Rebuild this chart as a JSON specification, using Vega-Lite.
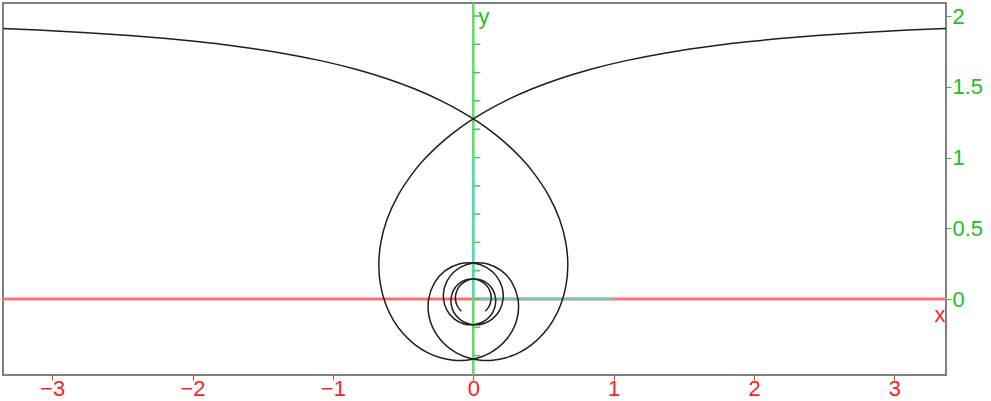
{
  "$schema": "https://vega.github.io/schema/vega-lite/v6.json",
  "width": 943,
  "height": 372,
  "autosize": {"type": "none"},
  "padding": {"left": 3, "top": 3, "right": 45, "bottom": 26},
  "background": "white",
  "config": {
    "view": {"stroke": "#808080", "strokeWidth": 2},
    "font": "Liberation Sans"
  },
  "datasets": {
    "curve": [
      {"b":"R","i":0,"x":3.5103,"y":1.9177},{"b":"R","i":1,"x":3.1001,"y":1.9007},{"b":"R","i":2,"x":2.7511,"y":1.8821},{"b":"R","i":3,"x":2.4495,"y":1.8621},{"b":"R","i":4,"x":2.1852,"y":1.8406},{"b":"R","i":5,"x":1.9512,"y":1.8177},{"b":"R","i":6,"x":1.7418,"y":1.7934},{"b":"R","i":7,"x":1.3814,"y":1.7407},{"b":"R","i":8,"x":1.0806,"y":1.6829},{"b":"R","i":9,"x":0.8247,"y":1.6204},{"b":"R","i":10,"x":0.6039,"y":1.5534},{"b":"R","i":11,"x":0.4115,"y":1.4824},{"b":"R","i":12,"x":0.2428,"y":1.4078},{"b":"R","i":13,"x":0.0943,"y":1.33},{"b":"R","i":14,"x":-0.0365,"y":1.2495},{"b":"R","i":15,"x":-0.1516,"y":1.1667},{"b":"R","i":16,"x":-0.2524,"y":1.0821},{"b":"R","i":17,"x":-0.3403,"y":0.9961},{"b":"R","i":18,"x":-0.4161,"y":0.9093},{"b":"R","i":19,"x":-0.535,"y":0.735},{"b":"R","i":20,"x":-0.6145,"y":0.5629},{"b":"R","i":21,"x":-0.6591,"y":0.3965},{"b":"R","i":22,"x":-0.673,"y":0.2393},{"b":"R","i":23,"x":-0.66,"y":0.0941},{"b":"R","i":24,"x":-0.6239,"y":-0.0365},{"b":"R","i":25,"x":-0.5687,"y":-0.1503},{"b":"R","i":26,"x":-0.4982,"y":-0.2459},{"b":"R","i":27,"x":-0.4163,"y":-0.322},{"b":"R","i":28,"x":-0.3268,"y":-0.3784},{"b":"R","i":29,"x":-0.2335,"y":-0.415},{"b":"R","i":30,"x":-0.1397,"y":-0.4325},{"b":"R","i":31,"x":-0.0488,"y":-0.432},{"b":"R","i":32,"x":0.0365,"y":-0.4151},{"b":"R","i":33,"x":0.1135,"y":-0.3836},{"b":"R","i":34,"x":0.1802,"y":-0.3398},{"b":"R","i":35,"x":0.2351,"y":-0.2862},{"b":"R","i":36,"x":0.277,"y":-0.2254},{"b":"R","i":37,"x":0.3053,"y":-0.1602},{"b":"R","i":38,"x":0.3201,"y":-0.0931},{"b":"R","i":39,"x":0.3183,"y":0},{"b":"R","i":40,"x":0.2768,"y":0.1146},{"b":"R","i":41,"x":0.2001,"y":0.2001},{"b":"R","i":42,"x":0.1026,"y":0.2476},{"b":"R","i":43,"x":0,"y":0.2546},{"b":"R","i":44,"x":-0.0928,"y":0.2241},{"b":"R","i":45,"x":-0.1637,"y":0.1637},{"b":"R","i":46,"x":-0.2046,"y":0.0847},{"b":"R","i":47,"x":-0.2122,"y":0},{"b":"R","i":48,"x":-0.1882,"y":-0.078},{"b":"R","i":49,"x":-0.1385,"y":-0.1385},{"b":"R","i":50,"x":-0.0722,"y":-0.1743},{"b":"R","i":51,"x":0,"y":-0.1819},{"b":"R","i":52,"x":0.0672,"y":-0.1623},{"b":"R","i":53,"x":0.12,"y":-0.12},{"b":"R","i":54,"x":0.1518,"y":-0.0629},{"b":"R","i":55,"x":0.1592,"y":0},{"b":"R","i":56,"x":0.1426,"y":0.0591},{"b":"R","i":57,"x":0.1059,"y":0.1059},{"b":"R","i":58,"x":0.0557,"y":0.1344},{"b":"R","i":59,"x":0,"y":0.1415},{"b":"R","i":60,"x":-0.0527,"y":0.1272},{"b":"R","i":61,"x":-0.0948,"y":0.0948},{"b":"R","i":62,"x":-0.1206,"y":0.05},{"b":"R","i":63,"x":-0.1273,"y":0},{"b":"R","i":64,"x":-0.1148,"y":-0.0475},{"b":"R","i":65,"x":-0.0857,"y":-0.0857},
      {"b":"L","i":0,"x":-3.5103,"y":1.9177},{"b":"L","i":1,"x":-3.1001,"y":1.9007},{"b":"L","i":2,"x":-2.7511,"y":1.8821},{"b":"L","i":3,"x":-2.4495,"y":1.8621},{"b":"L","i":4,"x":-2.1852,"y":1.8406},{"b":"L","i":5,"x":-1.9512,"y":1.8177},{"b":"L","i":6,"x":-1.7418,"y":1.7934},{"b":"L","i":7,"x":-1.3814,"y":1.7407},{"b":"L","i":8,"x":-1.0806,"y":1.6829},{"b":"L","i":9,"x":-0.8247,"y":1.6204},{"b":"L","i":10,"x":-0.6039,"y":1.5534},{"b":"L","i":11,"x":-0.4115,"y":1.4824},{"b":"L","i":12,"x":-0.2428,"y":1.4078},{"b":"L","i":13,"x":-0.0943,"y":1.33},{"b":"L","i":14,"x":0.0365,"y":1.2495},{"b":"L","i":15,"x":0.1516,"y":1.1667},{"b":"L","i":16,"x":0.2524,"y":1.0821},{"b":"L","i":17,"x":0.3403,"y":0.9961},{"b":"L","i":18,"x":0.4161,"y":0.9093},{"b":"L","i":19,"x":0.535,"y":0.735},{"b":"L","i":20,"x":0.6145,"y":0.5629},{"b":"L","i":21,"x":0.6591,"y":0.3965},{"b":"L","i":22,"x":0.673,"y":0.2393},{"b":"L","i":23,"x":0.66,"y":0.0941},{"b":"L","i":24,"x":0.6239,"y":-0.0365},{"b":"L","i":25,"x":0.5687,"y":-0.1503},{"b":"L","i":26,"x":0.4982,"y":-0.2459},{"b":"L","i":27,"x":0.4163,"y":-0.322},{"b":"L","i":28,"x":0.3268,"y":-0.3784},{"b":"L","i":29,"x":0.2335,"y":-0.415},{"b":"L","i":30,"x":0.1397,"y":-0.4325},{"b":"L","i":31,"x":0.0488,"y":-0.432},{"b":"L","i":32,"x":-0.0365,"y":-0.4151},{"b":"L","i":33,"x":-0.1135,"y":-0.3836},{"b":"L","i":34,"x":-0.1802,"y":-0.3398},{"b":"L","i":35,"x":-0.2351,"y":-0.2862},{"b":"L","i":36,"x":-0.277,"y":-0.2254},{"b":"L","i":37,"x":-0.3053,"y":-0.1602},{"b":"L","i":38,"x":-0.3201,"y":-0.0931},{"b":"L","i":39,"x":-0.3183,"y":0},{"b":"L","i":40,"x":-0.2768,"y":0.1146},{"b":"L","i":41,"x":-0.2001,"y":0.2001},{"b":"L","i":42,"x":-0.1026,"y":0.2476},{"b":"L","i":43,"x":0,"y":0.2546},{"b":"L","i":44,"x":0.0928,"y":0.2241},{"b":"L","i":45,"x":0.1637,"y":0.1637},{"b":"L","i":46,"x":0.2046,"y":0.0847},{"b":"L","i":47,"x":0.2122,"y":0},{"b":"L","i":48,"x":0.1882,"y":-0.078},{"b":"L","i":49,"x":0.1385,"y":-0.1385},{"b":"L","i":50,"x":0.0722,"y":-0.1743},{"b":"L","i":51,"x":0,"y":-0.1819},{"b":"L","i":52,"x":-0.0672,"y":-0.1623},{"b":"L","i":53,"x":-0.12,"y":-0.12},{"b":"L","i":54,"x":-0.1518,"y":-0.0629},{"b":"L","i":55,"x":-0.1592,"y":0},{"b":"L","i":56,"x":-0.1426,"y":0.0591},{"b":"L","i":57,"x":-0.1059,"y":0.1059},{"b":"L","i":58,"x":-0.0557,"y":0.1344},{"b":"L","i":59,"x":0,"y":0.1415},{"b":"L","i":60,"x":0.0527,"y":0.1272},{"b":"L","i":61,"x":0.0948,"y":0.0948},{"b":"L","i":62,"x":0.1206,"y":0.05},{"b":"L","i":63,"x":0.1273,"y":0},{"b":"L","i":64,"x":0.1148,"y":-0.0475},{"b":"L","i":65,"x":0.0857,"y":-0.0857}
    ],
    "lines": [
      {"seg":"xaxis","x":-3.5,"x2":3.5,"y":0,"y2":0},
      {"seg":"yaxis","x":0,"x2":0,"y":-0.6,"y2":2.2},
      {"seg":"xunit","x":0,"x2":1,"y":0,"y2":0},
      {"seg":"yunit","x":0,"x2":0,"y":0,"y2":1}
    ],
    "ticks": [
      {"x":0,"y":-0.4},{"x":0,"y":-0.2},{"x":0,"y":0},{"x":0,"y":0.2},{"x":0,"y":0.4},{"x":0,"y":0.6},{"x":0,"y":0.8},{"x":0,"y":1.0},{"x":0,"y":1.2},{"x":0,"y":1.4},{"x":0,"y":1.6},{"x":0,"y":1.8},{"x":0,"y":2.0}
    ],
    "labels": [
      {"t":"x","x":3.324,"y":-0.113},
      {"t":"y","x":0.076,"y":1.99}
    ]
  },
  "layer": [
    {
      "data": {"name": "lines"},
      "mark": {"type": "rule", "clip": true},
      "encoding": {
        "x": {"field": "x", "type": "quantitative",
          "scale": {"domain": [-3.35, 3.367], "nice": false, "zero": false},
          "axis": {"orient": "bottom", "values": [-3,-2,-1,0,1,2,3], "format": "~g", "title": null, "grid": false,
            "domain": false, "tickColor": "#ff3030", "tickSize": 5, "tickWidth": 1,
            "labelColor": "#ff2020", "labelFontSize": 22, "labelPadding": -2, "labelFont": "Liberation Sans"}},
        "x2": {"field": "x2"},
        "y": {"field": "y", "type": "quantitative",
          "scale": {"domain": [-0.537, 2.092], "nice": false, "zero": false},
          "axis": {"orient": "right", "values": [0,0.5,1,1.5,2], "format": "~g", "title": null, "grid": false,
            "domain": false, "tickColor": "#30c030", "tickSize": 5, "tickWidth": 1,
            "labelColor": "#20c020", "labelFontSize": 22, "labelPadding": 1, "labelFont": "Liberation Sans"}},
        "y2": {"field": "y2"},
        "color": {"field": "seg", "type": "nominal", "legend": null,
          "scale": {"domain": ["xaxis","yaxis","xunit","yunit"], "range": ["#ff7070","#66dd66","#70c4bc","#40e0d0"]}},
        "strokeWidth": {"field": "seg", "type": "nominal", "legend": null,
          "scale": {"domain": ["xaxis","yaxis","xunit","yunit"], "range": [3,2,3,2.5]}}
      }
    },
    {
      "data": {"name": "ticks"},
      "mark": {"type": "tick", "orient": "horizontal", "color": "#44cc44", "size": 7, "thickness": 1.5, "xOffset": 3.5, "opacity": 1},
      "encoding": {
        "x": {"field": "x", "type": "quantitative"},
        "y": {"field": "y", "type": "quantitative"}
      }
    },
    {
      "data": {"name": "curve"},
      "mark": {"type": "line", "interpolate": "catmull-rom", "color": "#1e1e1e", "strokeWidth": 1.5, "clip": true},
      "encoding": {
        "x": {"field": "x", "type": "quantitative"},
        "y": {"field": "y", "type": "quantitative"},
        "detail": {"field": "b", "type": "nominal"},
        "order": {"field": "i", "type": "quantitative"}
      }
    },
    {
      "data": {"name": "labels"},
      "mark": {"type": "text", "fontSize": 22, "font": "Liberation Sans", "align": "center", "baseline": "middle"},
      "encoding": {
        "x": {"field": "x", "type": "quantitative"},
        "y": {"field": "y", "type": "quantitative"},
        "text": {"field": "t"},
        "color": {"field": "t", "type": "nominal", "legend": null,
          "scale": {"domain": ["x","y"], "range": ["#ff2020","#20c020"]}}
      }
    }
  ],
  "resolve": {"scale": {"color": "independent"}}
}
